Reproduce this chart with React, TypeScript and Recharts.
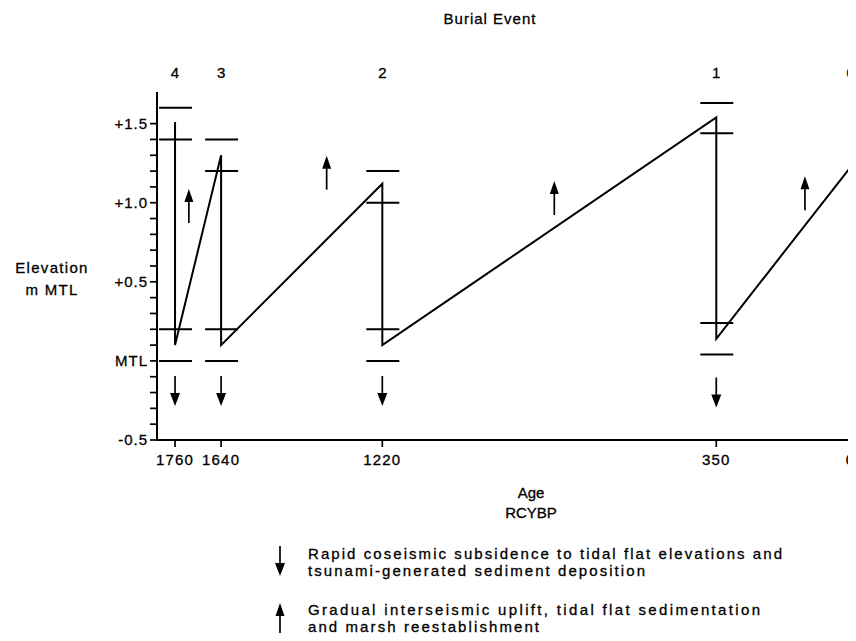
import React from 'react';
import { ComposedChart, Line, Scatter, XAxis, YAxis } from 'recharts';

const FONT = '"Liberation Sans", Arial, Helvetica, sans-serif';

// burial events: age (RCYBP) and event number
const eventAges = [1760, 1640, 1220, 350, 0];
const eventNumbers = ['4', '3', '2', '1', '0'];

// sawtooth elevation history (m relative to MTL); last point runs off the right edge
const pathAges = [1760, 1760, 1640, 1640, 1220, 1220, 350, 350, -14];
const pathElev = [1.51, 0.1, 1.3, 0.1, 1.12, 0.1, 1.54, 0.14, 1.27];

// short horizontal bars: elevation range before and after each event
const barAges = [1760, 1760, 1760, 1760, 1640, 1640, 1640, 1640, 1220, 1220, 1220, 1220, 350, 350, 350, 350];
const barElev = [1.6, 1.4, 0.2, 0.0, 1.4, 1.2, 0.2, 0.0, 1.2, 1.0, 0.2, 0.0, 1.63, 1.44, 0.24, 0.04];

// arrows: gradual uplift (up) and coseismic subsidence (down)
const upArrowAges = [1724, 1365, 772, 119];
const upArrowElev = [0.98, 1.19, 1.03, 1.06];
const downArrowAges = [1760, 1640, 1220, 350];
const downArrowElev = [-0.19, -0.19, -0.19, -0.2];

const yTicks = [-0.5, -0.4, -0.3, -0.2, -0.1, 0, 0.1, 0.2, 0.3, 0.4, 0.5, 0.6, 0.7, 0.8, 0.9, 1.0, 1.1, 1.2, 1.3, 1.4, 1.5];
const yMajorLabels: Record<string, string> = { '-5': '-0.5', '0': 'MTL', '5': '+0.5', '10': '+1.0', '15': '+1.5' };

const ageDomain = [-14, 1807];

const pathData = pathAges.map((age, i) => ({ age, elev: pathElev[i] }));
const barData = barAges.map((age, i) => ({ age, elev: barElev[i] }));
const upData = upArrowAges.map((age, i) => ({ age, elev: upArrowElev[i] }));
const downData = downArrowAges.map((age, i) => ({ age, elev: downArrowElev[i] }));

const textInk = { fill: '#000', stroke: '#000', strokeWidth: 0.3 };

const HBar = (p: any) => (
  <line x1={p.cx - 16} x2={p.cx + 17} y1={p.cy} y2={p.cy} stroke="#000" strokeWidth={2} />
);

const UpArrow = ({ cx, cy }: any) => (
  <g>
    <line x1={cx} x2={cx} y1={cy + 17} y2={cy - 6} stroke="#000" strokeWidth={1.7} />
    <polygon points={`${cx},${cy - 17} ${cx - 4.5},${cy - 4} ${cx + 4.5},${cy - 4}`} fill="#000" />
  </g>
);

const DownArrow = ({ cx, cy }: any) => (
  <g>
    <line x1={cx} x2={cx} y1={cy - 15} y2={cy + 4} stroke="#000" strokeWidth={1.7} />
    <polygon points={`${cx},${cy + 15} ${cx - 5},${cy + 2} ${cx + 5},${cy + 2}`} fill="#000" />
  </g>
);

const BurialTitle = () => (
  <text x={490} y={24} textAnchor="middle" fontFamily={FONT} fontSize={15} letterSpacing={1} {...textInk}>
    Burial  Event
  </text>
);

const AgeTitle = () => (
  <g fontFamily={FONT} fontSize={15} textAnchor="middle" {...textInk}>
    <text x={531} y={498}>Age</text>
    <text x={531} y={518}>RCYBP</text>
  </g>
);

const ElevTitle = () => (
  <g fontFamily={FONT} fontSize={15} textAnchor="middle" letterSpacing={1.3} {...textInk}>
    <text x={52} y={273}>Elevation</text>
    <text x={52} y={295}>m MTL</text>
  </g>
);

const LegendArt = () => (
  <svg width={856} height={641} style={{ position: 'absolute', left: 0, top: 0 }}>
    <DownArrow cx={280} cy={561} />
    <UpArrow cx={280} cy={620} />
    <g fontFamily={FONT} fontSize={15} {...textInk}>
      <text x={308} y={559} textLength={474} lengthAdjust="spacing">Rapid coseismic subsidence to tidal flat elevations and</text>
      <text x={308} y={576} textLength={337} lengthAdjust="spacing">tsunami-generated sediment deposition</text>
      <text x={308} y={615} textLength={452} lengthAdjust="spacing">Gradual interseismic uplift, tidal flat sedimentation</text>
      <text x={308} y={632} textLength={231} lengthAdjust="spacing">and marsh reestablishment</text>
    </g>
  </svg>
);

export default function App() {
  return (
    <div style={{ position: 'relative', margin: -8, width: 856, height: 641, overflow: 'hidden', background: '#fff' }}>
      <ComposedChart width={856} height={641} margin={{ top: 0, right: 0, bottom: 0, left: 0 }}>
        <XAxis
          xAxisId="top"
          orientation="top"
          type="number"
          dataKey="age"
          domain={ageDomain}
          allowDataOverflow
          reversed
          ticks={eventAges}
          interval={0}
          height={92}
          axisLine={false}
          tickLine={false}
          tickSize={0}
          tickMargin={14}
          tickFormatter={(v: number) => eventNumbers[eventAges.indexOf(v)]}
          tick={{ fontSize: 15, fontFamily: FONT, ...textInk }}
          label={<BurialTitle />}
        />
        <XAxis
          xAxisId="bottom"
          type="number"
          dataKey="age"
          domain={ageDomain}
          allowDataOverflow
          reversed
          ticks={eventAges}
          interval={0}
          height={201}
          axisLine={{ stroke: '#000', strokeWidth: 2 }}
          tickLine={{ stroke: '#000', strokeWidth: 1.7 }}
          tickSize={7}
          tickMargin={7}
          tick={{ fontSize: 15, fontFamily: FONT, letterSpacing: 1.2, ...textInk }}
          label={<AgeTitle />}
        />
        <YAxis
          type="number"
          dataKey="elev"
          domain={[-0.5, 1.7]}
          allowDataOverflow
          ticks={yTicks}
          interval={0}
          width={157}
          axisLine={{ stroke: '#000', strokeWidth: 2 }}
          tickLine={{ stroke: '#000', strokeWidth: 1.7 }}
          tickSize={7}
          tickMargin={2}
          tickFormatter={(v: number) => yMajorLabels[String(Math.round(v * 10))] ?? ''}
          tick={{ fontSize: 15, fontFamily: FONT, letterSpacing: 1, ...textInk }}
          label={<ElevTitle />}
        />
        <Line
          xAxisId="bottom"
          data={pathData}
          dataKey="elev"
          type="linear"
          stroke="#000"
          strokeWidth={2}
          dot={false}
          activeDot={false}
          isAnimationActive={false}
        />
        <Scatter xAxisId="bottom" data={barData} dataKey="elev" shape={HBar} isAnimationActive={false} />
        <Scatter xAxisId="top" data={upData} dataKey="elev" shape={UpArrow} isAnimationActive={false} />
        <Scatter xAxisId="bottom" data={downData} dataKey="elev" shape={DownArrow} isAnimationActive={false} />
      </ComposedChart>
      <LegendArt />
    </div>
  );
}
